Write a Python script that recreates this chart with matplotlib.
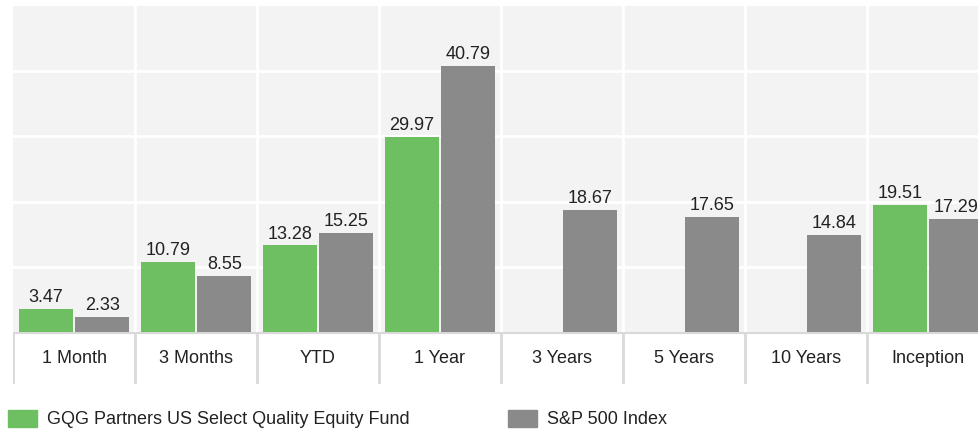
"""Trailing returns bar chart: fund vs. S&P 500."""

import numpy as np
import matplotlib
matplotlib.use("Agg")
import matplotlib.pyplot as plt
from matplotlib.patches import Rectangle

periods = ["1 Month", "3 Months", "YTD", "1 Year", "3 Years", "5 Years", "10 Years", "Inception"]
fund = [3.47, 10.79, 13.28, 29.97, np.nan, np.nan, np.nan, 19.51]
index = [2.33, 8.55, 15.25, 40.79, 18.67, 17.65, 14.84, 17.29]
series_names = ["GQG Partners US Select Quality Equity Fund", "S&P 500 Index"]

GREEN = "#6dbf62"
GREY = "#8a8a8a"
BG = "#f3f3f3"
SEP = "#d9d9d9"
TXT = "#222222"
FS = 13

plt.rcParams["font.family"] = ["Liberation Sans Narrow", "Liberation Sans", "DejaVu Sans"]

W, H = 979, 431
fig = plt.figure(figsize=(W / 100, H / 100), dpi=100)

# plot area runs a bit past the right edge, like the original
cat_w = 122
left, top, base, band_bot = 13, 7, 333, 385
ax = fig.add_axes([left / W, (H - base) / H, 8 * cat_w / W, (base - top) / H])
band = fig.add_axes([left / W, (H - band_bot) / H, 8 * cat_w / W, (band_bot - base) / H])

x = np.arange(len(periods))
bw = 0.445
off = 0.232

ax.set_facecolor(BG)
ax.bar(x - off, fund, bw, color=GREEN, zorder=3)
ax.bar(x + off, index, bw, color=GREY, zorder=3)

for xi, v in zip(x, fund):
    if not np.isnan(v):
        ax.text(xi - off, v + 0.6, f"{v:.2f}", ha="center", va="bottom", fontsize=FS, color=TXT)
for xi, v in zip(x, index):
    ax.text(xi + off, v + 0.6, f"{v:.2f}", ha="center", va="bottom", fontsize=FS, color=TXT)

ax.set_xlim(-0.5, len(periods) - 0.5)
ax.set_ylim(0, 50)
ax.set_yticks([10, 20, 30, 40])
ax.set_xticks(x[:-1] + 0.5)
ax.grid(True, color="white", linewidth=2, zorder=1)
ax.tick_params(left=False, bottom=False, labelleft=False, labelbottom=False)
for s in ax.spines.values():
    s.set_visible(False)

# category label band
band.set_xlim(-0.5, len(periods) - 0.5)
band.set_ylim(0, 1)
band.set_facecolor("white")
for b in np.arange(len(periods) + 1) - 0.5:
    band.axvline(b, color=SEP, linewidth=2)
band.axhline(1, color=SEP, linewidth=3)
for xi, p in zip(x, periods):
    band.text(xi, 0.5, p, ha="center", va="center", fontsize=FS, color=TXT)
band.set_xticks([])
band.set_yticks([])
for s in band.spines.values():
    s.set_visible(False)

# legend
for (px, tx), name, col in zip([(8, 47), (508, 547)], series_names, [GREEN, GREY]):
    fig.patches.append(Rectangle((px / W, (H - 428) / H), 29 / W, 17 / H,
                                 transform=fig.transFigure, color=col))
    fig.text(tx / W, (H - 420) / H, name, ha="left", va="center", fontsize=FS, color=TXT)

fig.savefig("out.png", dpi=100)
